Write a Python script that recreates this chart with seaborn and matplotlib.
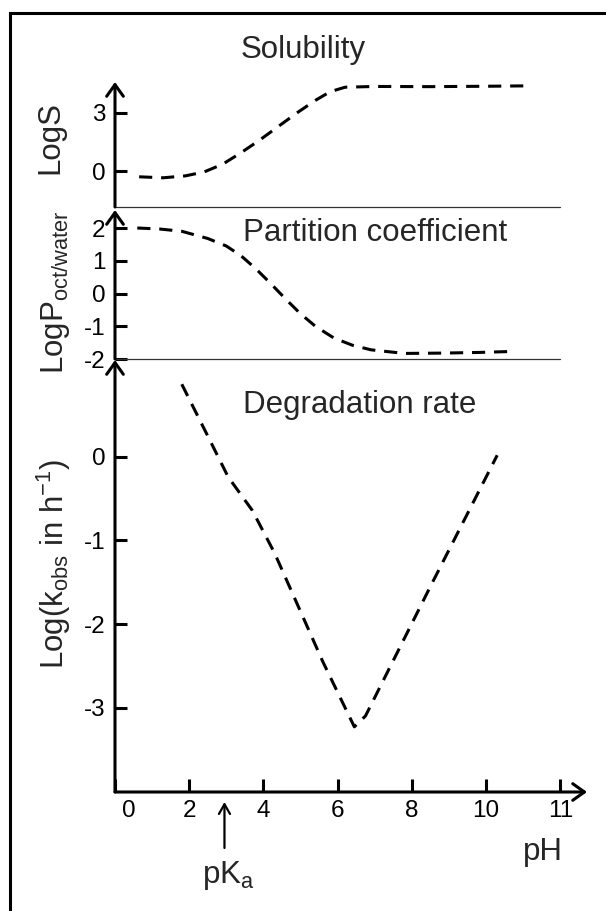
import matplotlib
matplotlib.use("Agg")
import numpy as np
import pandas as pd
import seaborn as sns
import matplotlib.pyplot as plt
from matplotlib.transforms import ScaledTranslation
from matplotlib.lines import Line2D

# ---------------- data ----------------
sol_ph = [0.65, 1.3, 1.9, 2.4, 2.9, 3.4, 3.9, 4.4, 4.9, 5.4, 5.8, 6.2, 7.0, 8.5, 10.0, 11.05]
sol_logs = [-0.30, -0.35, -0.25, -0.05, 0.35, 0.95, 1.6, 2.3, 3.0, 3.65, 4.1, 4.33, 4.37, 4.36, 4.38, 4.40]

part_ph = [0.6, 1.2, 1.8, 2.5, 3.0, 3.4, 3.8, 4.2, 4.6, 5.0, 5.4, 5.9, 6.4, 6.9, 7.8, 8.8, 9.8, 10.7]
part_logp = [2.0, 1.97, 1.9, 1.68, 1.45, 1.15, 0.75, 0.3, -0.17, -0.62, -1.0, -1.36, -1.58, -1.72, -1.83, -1.82, -1.8, -1.77]

deg_ph = [1.8, 2.5, 3.05, 3.7, 4.3, 5.0, 5.6, 6.45, 6.75, 8.5, 10.3]
deg_logk = [0.87, 0.25, -0.24, -0.64, -1.15, -1.85, -2.45, -3.23, -3.10, -1.55, 0.02]

pka = 2.95

sol_yticks = [0, 3]
sol_yticklabels = ["0", "3"]
part_yticks = [2, 1, 0, -1, -2]
part_yticklabels = ["2", "1", "0", "-1", "-2"]
deg_yticks = [0, -1, -2, -3]
deg_yticklabels = ["0", "-1", "-2", "-3"]
xtick_pos = [0, 2, 4, 6, 8, 10, 12]
xtick_labels = ["0", "2", "4", "6", "8", "10", "11"]

# ---------------- style ----------------
sns.set_theme(style="white")
plt.rcParams["font.family"] = ["Liberation Sans", "DejaVu Sans"]
plt.rcParams["mathtext.fontset"] = "custom"
plt.rcParams["mathtext.rm"] = "Liberation Sans"
plt.rcParams["mathtext.it"] = "Liberation Sans:italic"
plt.rcParams["axes.unicode_minus"] = False

fig = plt.figure(figsize=(6.06, 9.11), dpi=100)
fig.patch.set_facecolor("white")

H = 911.0
def fy(px):
    return 1 - px / H

X0, W = 115 / 606, 472 / 606
XMAX = 12.72

ax_top = fig.add_axes([X0, fy(207), W, (207 - 82) / H])
ax_mid = fig.add_axes([X0, fy(359), W, (359 - 210) / H])
ax_bot = fig.add_axes([X0, fy(792), W, (792 - 360) / H])

LW = 2.2
DASH = (0, (4.3, 2.9))
TICKFS = 17.5
LABFS = 22.5

def base(ax, ylim, yt, ytl):
    ax.set_facecolor("none")
    ax.set_xlim(0, XMAX)
    ax.set_ylim(*ylim)
    for s in ax.spines.values():
        s.set_visible(False)
    ax.set_yticks(yt)
    ax.set_yticklabels(ytl)
    ax.tick_params(axis="y", direction="in", length=8.6, width=LW, pad=7,
                   labelsize=TICKFS, colors="black", left=True)
    ax.annotate("", xy=(0, 1), xytext=(0, 0), xycoords="axes fraction",
                arrowprops=dict(arrowstyle="->,head_length=0.42,head_width=0.3",
                                lw=LW, color="black", shrinkA=0, shrinkB=0,
                                mutation_scale=20),
                annotation_clip=False)

def curve(ax, x, y):
    df = pd.DataFrame({"pH": x, "v": y})
    sns.lineplot(data=df, x="pH", y="v", ax=ax, color="black", lw=LW,
                 sort=False, estimator=None)
    ax.lines[-1].set_linestyle(DASH)
    ax.lines[-1].set_dash_capstyle("butt")
    ax.set_xlabel("")
    ax.set_ylabel("")

# top: solubility
base(ax_top, (-1.86, 4.60), sol_yticks, sol_yticklabels)
curve(ax_top, sol_ph, sol_logs)
ax_top.set_xticks([])
ax_top.axhline(-1.86, xmin=0, xmax=12 / XMAX, color="#333333", lw=0.9, clip_on=False)

# middle: partition coefficient
base(ax_mid, (-2.0, 2.55), part_yticks, part_yticklabels)
curve(ax_mid, part_ph, part_logp)
ax_mid.set_xticks([])
ax_mid.axhline(-2.0, xmin=0, xmax=12 / XMAX, color="#333333", lw=0.9, clip_on=False)

# bottom: degradation rate
base(ax_bot, (-4.01, 1.16), deg_yticks, deg_yticklabels)
curve(ax_bot, deg_ph, deg_logk)
ax_bot.set_xticks(xtick_pos)
ax_bot.set_xticklabels(xtick_labels)
ax_bot.tick_params(axis="x", direction="in", length=9.5, width=LW, pad=6,
                   labelsize=TICKFS, colors="black", bottom=True)
lab0 = ax_bot.get_xticklabels()[0]
lab0.set_transform(lab0.get_transform() + ScaledTranslation(14 / 100, 0, fig.dpi_scale_trans))
ax_bot.annotate("", xy=(1, 0), xytext=(0, 0), xycoords="axes fraction",
                arrowprops=dict(arrowstyle="->,head_length=0.42,head_width=0.3",
                                lw=LW, color="black", shrinkA=0, shrinkB=0,
                                mutation_scale=20),
                annotation_clip=False)

# pKa arrow
ax_bot.annotate("", xy=(pka, (792 - 802) / 432), xytext=(pka, (792 - 848) / 432),
                xycoords=("data", "axes fraction"), textcoords=("data", "axes fraction"),
                arrowprops=dict(arrowstyle="->,head_length=0.35,head_width=0.2",
                                lw=1.6, color="black", shrinkA=0, shrinkB=0,
                                mutation_scale=20),
                annotation_clip=False)

# texts
fig.text(303 / 606, fy(50), "Solubility", fontsize=LABFS, ha="center", va="center")
fig.text(375 / 606, fy(233), "Partition coefficient", fontsize=LABFS, ha="center", va="center")
fig.text(359.5 / 606, fy(405), "Degradation rate", fontsize=LABFS, ha="center", va="center")
fig.text(543 / 606, fy(852), "pH", fontsize=LABFS, ha="center", va="center")
fig.text(228 / 606, fy(883), r"pK$_\mathregular{a}$", fontsize=LABFS, ha="center", va="baseline")

fig.text(50 / 606, fy(138), "LogS", fontsize=LABFS, rotation=90, ha="center", va="center")
fig.text(55 / 606, fy(292), r"LogP$_\mathregular{oct/water}$", fontsize=LABFS, rotation=90,
         ha="center", va="center")
fig.text(54 / 606, fy(564), r"Log(k$_\mathregular{obs}$ in h$^\mathregular{-1}$)", fontsize=LABFS,
         rotation=90, ha="center", va="center")

# frame (top and left edges)
fig.add_artist(Line2D([10 / 606, 1], [fy(13), fy(13)], transform=fig.transFigure,
                      color="black", lw=2.2, solid_capstyle="projecting"))
fig.add_artist(Line2D([10 / 606, 10 / 606], [0, fy(13)], transform=fig.transFigure,
                      color="black", lw=2.2, solid_capstyle="projecting"))

fig.savefig("out.png", dpi=100, facecolor="white")
